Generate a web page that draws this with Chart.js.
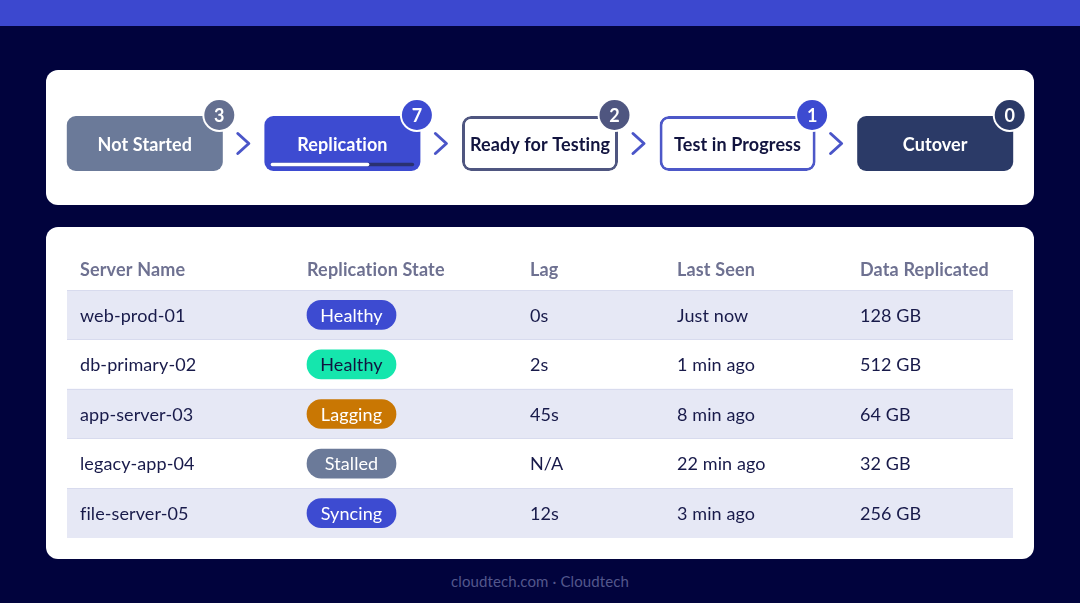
<!DOCTYPE html>
<html>
<head>
<meta charset="utf-8">
<script src="https://cdn.jsdelivr.net/npm/chart.js@4/dist/chart.umd.min.js"></script>
<style>
  html, body { margin: 0; padding: 0; width: 1080px; height: 603px; overflow: hidden; background: #01033d; }
  .band { position: absolute; left: 0; top: 0; width: 1080px; height: 26px; background: #3c48cf; }
  .card { position: absolute; left: 46px; width: 988px; background: #fff; border-radius: 12px; }
  .card canvas { display: block; }
  .foot { position: absolute; left: 0; top: 572px; width: 1080px; text-align: center; color: #53578c;
          font: 15px Lato, sans-serif; letter-spacing: 0.1px; }
</style>
</head>
<body>
<div class="band"></div>
<div class="card" style="top:70px;height:135px"><canvas id="pipeline" width="988" height="135"></canvas></div>
<div class="card" style="top:227px;height:332px"><canvas id="servers" width="988" height="332"></canvas></div>
<div class="foot">cloudtech.com · Cloudtech</div>
<script>
// pipeline data
const stages = ['Not Started', 'Replication', 'Ready for Testing', 'Test in Progress', 'Cutover'];
const stageCounts = [3, 7, 2, 1, 0];
const stageProgress = [null, 0.68, null, null, null];

// table data
const columns = ['Server Name', 'Replication State', 'Lag', 'Last Seen', 'Data Replicated'];
const serverNames = ['web-prod-01', 'db-primary-02', 'app-server-03', 'legacy-app-04', 'file-server-05'];
const replicationStates = ['Healthy', 'Healthy', 'Lagging', 'Stalled', 'Syncing'];
const lags = ['0s', '2s', '45s', 'N/A', '12s'];
const lastSeen = ['Just now', '1 min ago', '8 min ago', '22 min ago', '3 min ago'];
const dataReplicated = ['128 GB', '512 GB', '64 GB', '32 GB', '256 GB'];

// styling
const FONT = 'Lato, sans-serif';
const INK = '#181a4a';
const stageFill = ['#6b7a99', '#3d4bd1', '#ffffff', '#ffffff', '#2b3a67'];
const stageStroke = ['#6b7a99', '#3d4bd1', '#4f5680', '#4d58c8', '#2b3a67'];
const stageBorder = [0, 0, 3, 3, 0];
const stageText = ['#ffffff', '#ffffff', '#12143f', '#12143f', '#ffffff'];
const badgeFill = ['#646f90', '#3d4bd1', '#4f5680', '#3d4bd1', '#2b3a67'];
const pillFill = ['#3d4bd1', '#15e6ad', '#c97703', '#6b7a99', '#3d4bd1'];
const pillText = ['#ffffff', '#12143f', '#ffffff', '#ffffff', '#ffffff'];
const rowFill = ['#e6e8f5', '#ffffff', '#e6e8f5', '#ffffff', '#e6e8f5'];
const columnStops = [13, 240, 463, 610, 793].map(v => v / 946);

function text(ctx, str, x, y, font, color, align, spacing) {
  ctx.font = font;
  ctx.fillStyle = color;
  ctx.textAlign = align || 'left';
  ctx.textBaseline = 'middle';
  ctx.letterSpacing = (spacing || 0) + 'px';
  ctx.fillText(str, x, y);
}

const pipelineDecor = {
  id: 'pipelineDecor',
  afterDatasetsDraw(chart) {
    const ctx = chart.ctx;
    const bars = chart.getDatasetMeta(0).data;
    bars.forEach((bar, i) => {
      const right = bar.x + bar.width / 2;
      const left = bar.x - bar.width / 2;
      const midY = (bar.y + bar.base) / 2;
      text(ctx, stages[i], bar.x, midY + 1.5, '700 18px ' + FONT, stageText[i], 'center', 0.1);

      if (stageProgress[i] !== null) {
        const x0 = left + 8, w = bar.width - 16, y = bar.base - 6.5;
        ctx.lineWidth = 3.5;
        ctx.lineCap = 'round';
        ctx.strokeStyle = '#2a3170';
        ctx.beginPath(); ctx.moveTo(x0, y); ctx.lineTo(x0 + w, y); ctx.stroke();
        ctx.strokeStyle = '#ffffff';
        ctx.beginPath(); ctx.moveTo(x0, y); ctx.lineTo(x0 + w * stageProgress[i], y); ctx.stroke();
      }

      // count badge on the top right corner
      ctx.beginPath(); ctx.arc(right - 3.5, bar.y - 1, 17, 0, Math.PI * 2);
      ctx.fillStyle = '#ffffff'; ctx.fill();
      ctx.beginPath(); ctx.arc(right - 3.5, bar.y - 1, 15, 0, Math.PI * 2);
      ctx.fillStyle = badgeFill[i]; ctx.fill();
      text(ctx, String(stageCounts[i]), right - 3.5, bar.y, '700 18px ' + FONT, '#ffffff', 'center');

      // chevron to the next stage
      if (i < bars.length - 1) {
        ctx.strokeStyle = '#4a55c8';
        ctx.lineWidth = 3;
        ctx.lineCap = 'round';
        ctx.lineJoin = 'round';
        ctx.beginPath();
        ctx.moveTo(right + 15, midY - 10);
        ctx.lineTo(right + 26, midY);
        ctx.lineTo(right + 15, midY + 10);
        ctx.stroke();
      }
    });
  }
};

new Chart(document.getElementById('pipeline'), {
  type: 'bar',
  data: {
    labels: stages,
    datasets: [{
      data: stages.map(() => 1),
      backgroundColor: stageFill,
      borderColor: stageStroke,
      borderWidth: stageBorder,
      borderSkipped: false,
      borderRadius: 9,
      barPercentage: 156 / 197.6,
      categoryPercentage: 1
    }]
  },
  options: {
    responsive: false,
    animation: false,
    layout: { padding: { top: 46, bottom: 34 } },
    plugins: { legend: { display: false }, tooltip: { enabled: false } },
    scales: {
      x: { display: false },
      y: { display: false, min: 0, max: 1 }
    }
  },
  plugins: [pipelineDecor]
});

const tableText = {
  id: 'tableText',
  afterDatasetsDraw(chart) {
    const ctx = chart.ctx;
    const x = chart.scales.x, y = chart.scales.y;
    columns.forEach((c, i) => {
      text(ctx, c, x.getPixelForValue(columnStops[i]), y.getPixelForValue(0) - 45, '700 18px ' + FONT, '#6e7191', 'left', 0.15);
    });
    const pills = chart.getDatasetMeta(1).data;
    serverNames.forEach((name, r) => {
      const yy = y.getPixelForValue(r) + 1;
      const body = '400 18px ' + FONT;
      text(ctx, name, x.getPixelForValue(columnStops[0]), yy, body, INK, 'left', 0.1);
      text(ctx, replicationStates[r], (pills[r].x + pills[r].base) / 2, yy, body, pillText[r], 'center', 0.1);
      text(ctx, lags[r], x.getPixelForValue(columnStops[2]), yy, body, INK, 'left', 0.1);
      text(ctx, lastSeen[r], x.getPixelForValue(columnStops[3]), yy, body, INK, 'left', 0.1);
      text(ctx, dataReplicated[r], x.getPixelForValue(columnStops[4]), yy, body, INK, 'left', 0.1);
    });
  }
};

new Chart(document.getElementById('servers'), {
  type: 'bar',
  data: {
    labels: serverNames,
    datasets: [
      {
        data: serverNames.map(() => 1),
        backgroundColor: rowFill,
        barPercentage: 1,
        categoryPercentage: 1,
        grouped: false,
        order: 2
      },
      {
        data: replicationStates.map(() => [240 / 946, 329 / 946]),
        backgroundColor: pillFill,
        borderRadius: 15,
        borderSkipped: false,
        barThickness: 29,
        grouped: false,
        order: 1
      }
    ]
  },
  options: {
    indexAxis: 'y',
    responsive: false,
    animation: false,
    layout: { padding: { top: 63, bottom: 21, left: 21, right: 21 } },
    plugins: { legend: { display: false }, tooltip: { enabled: false } },
    scales: {
      x: { display: false, min: 0, max: 1 },
      y: {
        grid: {
          offset: true,
          drawTicks: false,
          z: 1,
          color: ctx => (ctx.tick ? '#d8dbee' : 'transparent')
        },
        ticks: { display: false },
        border: { display: false }
      }
    }
  },
  plugins: [tableText]
});
</script>
</body>
</html>
